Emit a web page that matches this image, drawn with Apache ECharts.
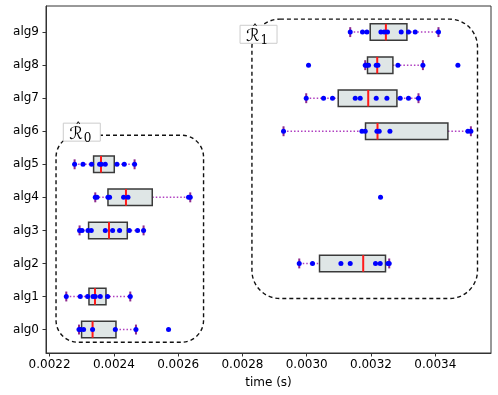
<!DOCTYPE html>
<html lang="en">
<head>
    <meta charset="UTF-8">
    <title>boxplot</title>
    <script src="https://cdn.jsdelivr.net/npm/echarts@6/dist/echarts.min.js"></script>
    <style>
        body{margin:0;background:#fff;}
    </style>
</head>
<body>
    <div id="main" style="width: 498px;height:395px;"></div>
    <script>
        // categories
        var algs = ['alg0','alg1','alg2','alg3','alg4','alg5','alg6','alg7','alg8','alg9'];
        // box stats: min, q1, median, q3, max
        var boxStats = [
            [0.0022914, 0.0022995, 0.0023337, 0.0024065, 0.0024687],
            [0.0022519, 0.0023225, 0.0023412, 0.0023754, 0.0024510],
            [0.0029767, 0.0030398, 0.0031757, 0.0032451, 0.0032566],
            [0.0022933, 0.0023213, 0.0023848, 0.0024417, 0.0024924],
            [0.0023421, 0.0023816, 0.0024376, 0.0025194, 0.0026376],
            [0.0022778, 0.0023369, 0.0023600, 0.0024012, 0.0024644],
            [0.0029278, 0.0031829, 0.0032202, 0.0034392, 0.0035107],
            [0.0029984, 0.0030980, 0.0031913, 0.0032806, 0.0033477],
            [0.0031820, 0.0031891, 0.0032193, 0.0032681, 0.0033614],
            [0.0031353, 0.0031975, 0.0032463, 0.0033117, 0.0034099]
        ];
        // raw timings per algorithm
        var runs = [
            [0.0022914, 0.0022955, 0.0023058, 0.0023337, 0.0024044, 0.0024687, 0.0025701],
            [0.0022519, 0.0022955, 0.0023182, 0.0023350, 0.0023421, 0.0023577, 0.0023804, 0.0024510],
            [0.0029767, 0.0030180, 0.0031064, 0.0031353, 0.0032140, 0.0032286, 0.0032526, 0.0032566],
            [0.0022933, 0.0023008, 0.0023194, 0.0023297, 0.0023733, 0.0023960, 0.0024177, 0.0024479, 0.0024737, 0.0024924],
            [0.0023421, 0.0023474, 0.0023816, 0.0023866, 0.0024302, 0.0024439, 0.0026323, 0.0026376, 0.0032296],
            [0.0022778, 0.0023039, 0.0023306, 0.0023555, 0.0023608, 0.0023732, 0.0024096, 0.0024323, 0.0024644],
            [0.0029278, 0.0031717, 0.0031820, 0.0032184, 0.0032255, 0.0032588, 0.0035014, 0.0035107],
            [0.0029984, 0.0030523, 0.0030802, 0.0031509, 0.0031664, 0.0032162, 0.0032494, 0.0032908, 0.0033166, 0.0033477],
            [0.0030056, 0.0031820, 0.0031851, 0.0031922, 0.0032162, 0.0032215, 0.0032837, 0.0033614, 0.0034703],
            [0.0031353, 0.0031736, 0.0031872, 0.0032308, 0.0032411, 0.0032513, 0.0032939, 0.0033166, 0.0033375, 0.0034099]
        ];
        var xTicks = [0.0022, 0.0024, 0.0026, 0.0028, 0.0030, 0.0032, 0.0034];
        var yTicks = [0,1,2,3,4,5,6,7,8,9];

        // group outlines (data coords)
        var groups = [
            {sub: '0', x0: 0.00222, x1: 0.002679, y0: -0.385, y1: 5.88, r: 22, lx: 0.0022986, ly: 5.973},
            {sub: '1', x0: 0.0028295, x1: 0.0035313, y0: 0.939, y1: 9.394, r: 28, lx: 0.0028485, ly: 8.934}
        ];

        var boxData = boxStats.map(function(s, i){ return [i].concat(s); });
        var pointData = [];
        runs.forEach(function(r, i){
            r.forEach(function(v){ pointData.push([v, i]); });
        });

        var chart = echarts.init(document.getElementById('main'));

        function renderBox(params, api){
            var y = api.value(0);
            var lo = api.coord([api.value(1), y]);
            var q1 = api.coord([api.value(2), y]);
            var md = api.coord([api.value(3), y]);
            var q3 = api.coord([api.value(4), y]);
            var hi = api.coord([api.value(5), y]);
            var h = api.size([0, 0.5])[1];
            var ch = api.size([0, 0.3])[1];
            var cy = lo[1];
            var whisk = {stroke: '#b040c0', lineWidth: 1.5, lineDash: [1.5, 2]};
            var cap = {stroke: '#8e2a8e', lineWidth: 2};
            return {
                type: 'group',
                children: [
                    {type: 'line', shape: {x1: lo[0], y1: cy, x2: q1[0], y2: cy}, style: whisk},
                    {type: 'line', shape: {x1: q3[0], y1: cy, x2: hi[0], y2: cy}, style: whisk},
                    {type: 'line', shape: {x1: lo[0], y1: cy - ch/2, x2: lo[0], y2: cy + ch/2}, style: cap},
                    {type: 'line', shape: {x1: hi[0], y1: cy - ch/2, x2: hi[0], y2: cy + ch/2}, style: cap},
                    {type: 'rect', shape: {x: q1[0], y: cy - h/2, width: q3[0] - q1[0], height: h},
                        style: {fill: '#dfe6e6', stroke: '#3a3a3a', lineWidth: 1.5}},
                    {type: 'line', shape: {x1: md[0], y1: cy - h/2, x2: md[0], y2: cy + h/2},
                        style: {stroke: '#ff1a1a', lineWidth: 2}}
                ]
            };
        }

        chart.setOption({
            animation: false,
            grid: {left: 46, right: 7, top: 6, bottom: 42, show: true, borderColor: '#333', borderWidth: 1, backgroundColor: 'transparent'},
            xAxis: {
                type: 'value', min: 0.0021888, max: 0.0035733,
                name: 'time (s)', nameLocation: 'middle', nameGap: 24,
                nameTextStyle: {fontFamily: 'DejaVu Sans', fontSize: 12, color: '#000'},
                axisLine: {show: true, onZero: false, lineStyle: {color: '#333'}},
                axisTick: {show: true, length: 3.5, lineStyle: {color: '#333'}, customValues: xTicks},
                axisLabel: {customValues: xTicks, margin: 6, fontFamily: 'DejaVu Sans', fontSize: 12, color: '#000',
                    formatter: function(v){ return v.toFixed(4); }},
                splitLine: {show: false}
            },
            yAxis: {
                type: 'value', min: -0.71, max: 9.79,
                axisLine: {show: true, onZero: false, lineStyle: {color: '#333'}},
                axisTick: {show: true, length: 3.5, lineStyle: {color: '#333'}, customValues: yTicks},
                axisLabel: {customValues: yTicks, margin: 7, fontFamily: 'DejaVu Sans', fontSize: 12, color: '#000',
                    formatter: function(v){ return algs[Math.round(v)]; }},
                splitLine: {show: false}
            },
            series: [
                {type: 'custom', renderItem: renderBox, data: boxData, encode: {x: [1,2,3,4,5], y: 0}, z: 2},
                {type: 'scatter', data: pointData, symbolSize: 5, itemStyle: {color: '#0000ff', opacity: 1}, z: 3}
            ]
        });

        // dashed group outlines with labels
        var graphics = [];
        groups.forEach(function(g){
            var a = chart.convertToPixel({gridIndex: 0}, [g.x0, g.y1]);
            var b = chart.convertToPixel({gridIndex: 0}, [g.x1, g.y0]);
            graphics.push({
                type: 'rect', z: 10,
                shape: {x: a[0], y: a[1], width: b[0] - a[0], height: b[1] - a[1], r: g.r},
                style: {fill: 'none', stroke: '#111', lineWidth: 1.4, lineDash: [4, 3]}
            });
            var c = chart.convertToPixel({gridIndex: 0}, [g.lx, g.ly]);
            graphics.push({
                type: 'rect', z: 11,
                shape: {x: c[0] - 18, y: c[1] - 9, width: 37, height: 18},
                style: {fill: '#fff', stroke: '#cccccc', lineWidth: 1}
            });
            graphics.push({
                type: 'text', z: 12, x: c[0] - 12, y: c[1] + 2,
                style: {
                    text: '{r|ℛ}{s|' + g.sub + '}',
                    verticalAlign: 'middle', align: 'left',
                    rich: {
                        r: {fontFamily: 'DejaVu Sans', fontSize: 17, fill: '#000'},
                        s: {fontFamily: 'DejaVu Serif', fontSize: 12, fill: '#000', padding: [9, 0, 0, 1]}
                    }
                }
            });
            graphics.push({
                type: 'text', z: 12, x: c[0] - 3, y: c[1] - 3,
                style: {text: 'ˆ', align: 'center', verticalAlign: 'middle',
                    fontFamily: 'DejaVu Sans', fontSize: 12, fill: '#000'}
            });
        });
        chart.setOption({graphic: graphics});
    </script>
</body>
</html>
